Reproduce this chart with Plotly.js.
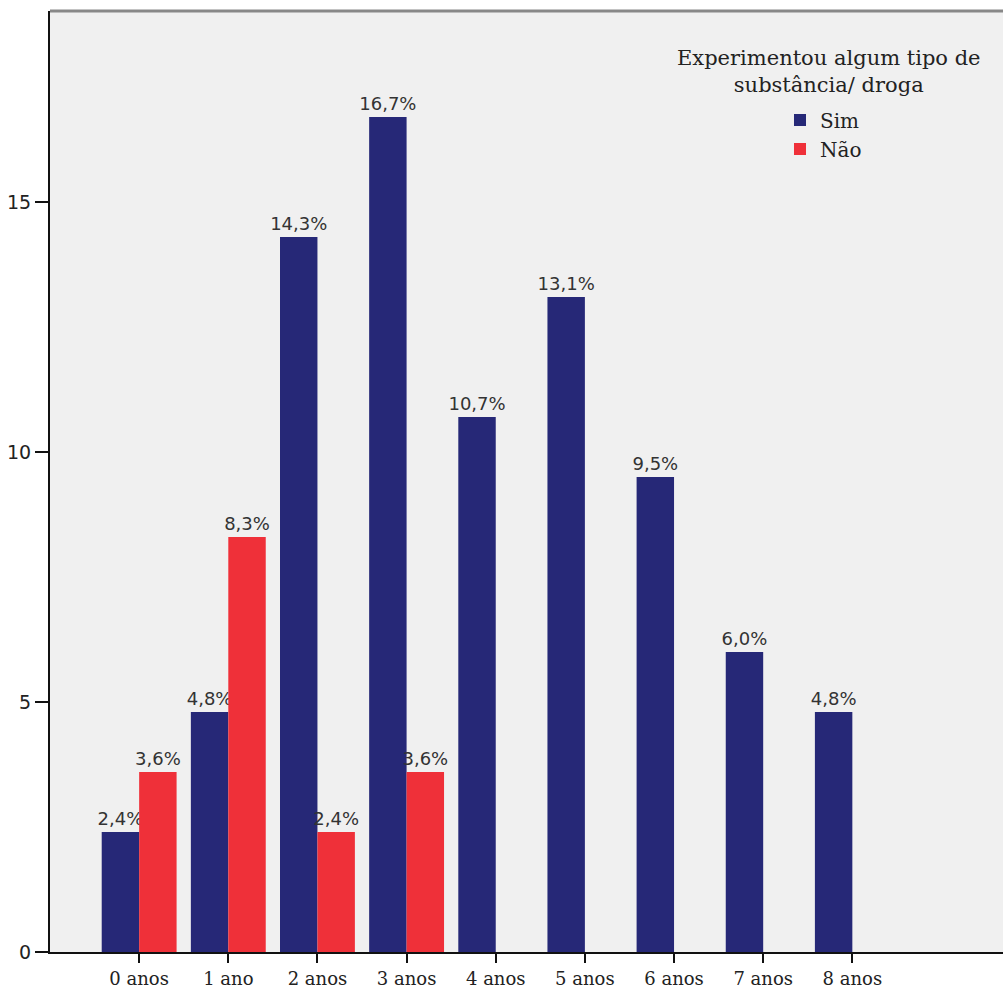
<!DOCTYPE html>
<html>
<head>
<meta charset="utf-8">
<script src="https://cdn.plot.ly/plotly-3.0.1.min.js"></script>
<style>
  html, body { margin: 0; padding: 0; background: #ffffff; }
  #chart { width: 1005px; height: 989px; }
</style>
</head>
<body>
<div id="chart"></div>
<script>
// ---- data ----
const categories = ["0 anos", "1 ano", "2 anos", "3 anos", "4 anos", "5 anos", "6 anos", "7 anos", "8 anos"];
const simValues = [2.4, 4.8, 14.3, 16.7, 10.7, 13.1, 9.5, 6.0, 4.8];
const naoValues = [3.6, 8.3, 2.4, 3.6, null, null, null, null, null];
const seriesNames = ["Sim", "Não"];
const legendTitle = "Experimentou algum tipo de<br>substância/ droga";
const yTickVals = [0, 5, 10, 15];

function pctLabel(v) {
  return v === null ? "" : v.toFixed(1).replace(".", ",") + "%";
}

const labelFont = { family: "DejaVu Sans, sans-serif", size: 18, color: "#333333" };

const traces = [
  {
    type: "bar",
    name: seriesNames[0],
    x: categories,
    y: simValues,
    text: simValues.map(pctLabel),
    textposition: "outside",
    constraintext: "none",
    cliponaxis: false,
    textfont: labelFont,
    marker: { color: "#262877" },
    hoverinfo: "x+y"
  },
  {
    type: "bar",
    name: seriesNames[1],
    x: categories,
    y: naoValues,
    text: naoValues.map(pctLabel),
    textposition: "outside",
    constraintext: "none",
    cliponaxis: false,
    textfont: labelFont,
    marker: { color: "#EF3039" },
    hoverinfo: "x+y"
  }
];

const layout = {
  width: 1005,
  height: 989,
  margin: { l: 50, r: 2, t: 11, b: 37, pad: 0 },
  paper_bgcolor: "#ffffff",
  plot_bgcolor: "#F0F0F0",
  barmode: "group",
  bargap: 0.16,
  bargroupgap: 0,
  showlegend: true,
  legend: {
    x: 0.766,
    xanchor: "left",
    y: 0.905,
    yanchor: "top",
    bgcolor: "rgba(0,0,0,0)",
    font: { family: "DejaVu Serif, serif", size: 20, color: "#222222" },
    itemwidth: 30,
    tracegroupgap: 0
  },
  xaxis: {
    type: "category",
    range: [-1.0, 9.69],
    showgrid: false,
    zeroline: false,
    showline: true,
    linecolor: "#111111",
    linewidth: 2,
    ticks: "outside",
    ticklen: 9,
    tickwidth: 2,
    tickcolor: "#111111",
    tickfont: { family: "DejaVu Serif, serif", size: 18, color: "#222222" },
    fixedrange: true
  },
  yaxis: {
    range: [0, 18.82],
    tickvals: yTickVals,
    ticktext: yTickVals.map(String),
    showgrid: false,
    zeroline: false,
    showline: true,
    linecolor: "#111111",
    linewidth: 2,
    ticks: "outside",
    ticklen: 13,
    tickwidth: 2,
    tickcolor: "#111111",
    tickfont: { family: "DejaVu Sans, sans-serif", size: 19, color: "#222222" },
    fixedrange: true
  },
  annotations: [
    {
      xref: "paper", yref: "paper",
      x: 0.817, y: 0.965,
      xanchor: "center", yanchor: "top",
      showarrow: false,
      align: "center",
      text: legendTitle,
      font: { family: "DejaVu Serif, serif", size: 21, color: "#222222" }
    }
  ],
  shapes: [
    {
      type: "line", xref: "paper", yref: "paper",
      x0: 0, x1: 1, y0: 1, y1: 1,
      line: { color: "#888888", width: 3 }
    }
  ]
};

Plotly.newPlot("chart", traces, layout, { displayModeBar: false, responsive: false });
</script>
</body>
</html>
